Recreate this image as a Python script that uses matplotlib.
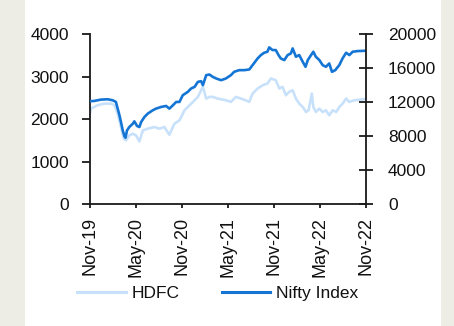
import matplotlib
matplotlib.use("Agg")
import matplotlib.pyplot as plt
from matplotlib.patches import Rectangle
import pandas as pd

# HDFC share price (left axis)
hdfc_dates = ['2019-11-01','2019-11-06','2019-12-02','2019-12-28','2020-01-25','2020-02-07','2020-02-20',
              '2020-03-04','2020-03-15','2020-03-24','2020-04-06','2020-04-20','2020-05-03','2020-05-16',
              '2020-05-30','2020-06-18','2020-07-15','2020-08-04','2020-08-23','2020-09-12','2020-10-02',
              '2020-10-22','2020-11-11','2020-12-01','2020-12-21','2021-01-03','2021-01-16','2021-01-23',
              '2021-02-05','2021-02-18','2021-03-03','2021-03-23','2021-04-24','2021-05-14','2021-06-03',
              '2021-06-23','2021-07-12','2021-07-26','2021-08-08','2021-08-28','2021-09-17','2021-10-06',
              '2021-10-20','2021-11-08','2021-11-22','2021-12-05','2021-12-18','2021-12-31','2022-01-14',
              '2022-01-27','2022-02-09','2022-02-23','2022-03-08','2022-03-18','2022-03-31','2022-04-06',
              '2022-04-16','2022-04-30','2022-05-13','2022-05-26','2022-06-08','2022-06-22','2022-07-06',
              '2022-07-18','2022-07-31','2022-08-14','2022-08-27','2022-09-16','2022-11-01']
hdfc_vals = [2110,2244,2323,2362,2362,2323,2126,
             1811,1535,1496,1614,1654,1614,1472,
             1732,1772,1811,1772,1811,1630,1890,
             1969,2205,2323,2441,2520,2677,2756,
             2480,2520,2520,2480,2441,2402,2520,
             2480,2441,2402,2598,2717,2795,2835,
             2953,2913,2717,2756,2559,2638,2677,
             2480,2362,2283,2165,2205,2598,2283,
             2165,2244,2165,2205,2087,2205,2165,
             2283,2362,2480,2402,2441,2472]

# Nifty index (right axis)
nifty_dates = ['2019-11-01','2019-11-19','2019-12-16','2020-01-11','2020-01-31','2020-02-13','2020-02-20',
               '2020-02-27','2020-03-04','2020-03-11','2020-03-18','2020-03-22','2020-03-28','2020-04-06',
               '2020-04-20','2020-04-26','2020-05-07','2020-05-16','2020-05-23','2020-06-05','2020-06-18',
               '2020-07-08','2020-07-21','2020-08-10','2020-08-30','2020-09-12','2020-09-26','2020-10-09',
               '2020-10-22','2020-11-04','2020-11-24','2020-12-07','2020-12-21','2021-01-03','2021-01-16',
               '2021-01-23','2021-02-05','2021-02-18','2021-03-03','2021-03-17','2021-04-05','2021-04-24',
               '2021-05-14','2021-05-27','2021-06-16','2021-07-06','2021-07-26','2021-08-08','2021-08-28',
               '2021-09-10','2021-09-23','2021-10-06','2021-10-13','2021-10-26','2021-11-08','2021-11-19',
               '2021-11-28','2021-12-12','2021-12-25','2022-01-07','2022-01-14','2022-01-27','2022-02-09',
               '2022-02-23','2022-03-06','2022-03-15','2022-03-28','2022-04-06','2022-04-16','2022-04-30',
               '2022-05-13','2022-05-26','2022-06-08','2022-06-19','2022-07-02','2022-07-18','2022-07-31',
               '2022-08-14','2022-08-27','2022-09-09','2022-09-29','2022-11-01']
nifty_vals = [12087,12126,12283,12323,12205,12008,11220,
              10433,9646,8661,7953,7795,8661,9055,
              9449,9724,9173,9055,9646,10236,10630,
              11024,11220,11417,11535,11220,11614,12008,
              12008,12795,13189,13583,13780,14370,14449,
              13976,15157,15236,14961,14764,14567,14764,
              15157,15551,15748,15748,15827,16339,17126,
              17520,17795,17913,18425,18110,18110,17520,
              17126,16929,17520,17717,18307,17323,17520,
              16732,16142,16929,17520,17913,17323,16929,
              16339,16142,16535,15551,15748,16339,17126,
              17795,17520,17913,17992,18031]

xtick_labels = ['Nov-19','May-20','Nov-20','May-21','Nov-21','May-22','Nov-22']
xtick_dates = ['2019-11-01','2020-05-01','2020-11-01','2021-05-01','2021-11-01','2022-05-01','2022-11-01']

plt.rcParams['font.family'] = ['Liberation Sans', 'DejaVu Sans']
plt.rcParams['text.color'] = '#111111'

fig = plt.figure(figsize=(4.54, 3.26), dpi=100)
fig.patch.set_facecolor('#EDEDE6')
# white card behind the chart
fig.patches.append(Rectangle((25/454, 0), 416/454, 1, transform=fig.transFigure,
                             facecolor='white', edgecolor='none', zorder=-1))

ax = fig.add_axes([0.1976, 0.3742, 0.6086, 0.5215])
ax2 = ax.twinx()

l1, = ax.plot(pd.to_datetime(hdfc_dates), hdfc_vals, color='#C8E1FA', lw=1.9, label='HDFC')
l2, = ax2.plot(pd.to_datetime(nifty_dates), nifty_vals, color='#1475D5', lw=1.9, label='Nifty Index')

ax.set_xlim(pd.Timestamp('2019-11-01'), pd.Timestamp('2022-11-01'))
ax.set_ylim(0, 4000)
ax2.set_ylim(0, 20000)
ax.set_yticks([0, 1000, 2000, 3000, 4000])
ax2.set_yticks([0, 4000, 8000, 12000, 16000, 20000])
ax.set_xticks(pd.to_datetime(xtick_dates))
ax.set_xticklabels(xtick_labels, rotation=90, family=['Liberation Sans Narrow', 'Liberation Sans'],
                   fontsize=13, color='#111111')

for a in (ax, ax2):
    a.set_facecolor('none')
    a.spines['top'].set_visible(False)
    for s in ('left', 'right', 'bottom'):
        a.spines[s].set_linewidth(1.3)
        a.spines[s].set_color('#1a1a1a')
ax.spines['right'].set_visible(False)
ax2.spines['left'].set_visible(False)
ax2.spines['bottom'].set_visible(False)

ax.tick_params(axis='y', direction='out', length=6, width=1.3, pad=9, labelsize=12.5,
               color='#1a1a1a', labelcolor='#111111')
ax.tick_params(axis='x', direction='out', length=3, width=1.3, pad=6.5, color='#1a1a1a')
ax2.tick_params(axis='y', direction='inout', length=9.5, width=1.3, pad=11, labelsize=12.5,
                color='#1a1a1a', labelcolor='#111111')

leg = fig.legend(handles=[l1, l2], loc='center', bbox_to_anchor=(218/454, 33/326), ncol=2, frameon=False,
                 fontsize=12.5, handlelength=2.8, handletextpad=0.35, columnspacing=2.4)
for h in leg.get_lines():
    h.set_linewidth(2.2)

fig.savefig('out.png', dpi=100, facecolor=fig.get_facecolor())
